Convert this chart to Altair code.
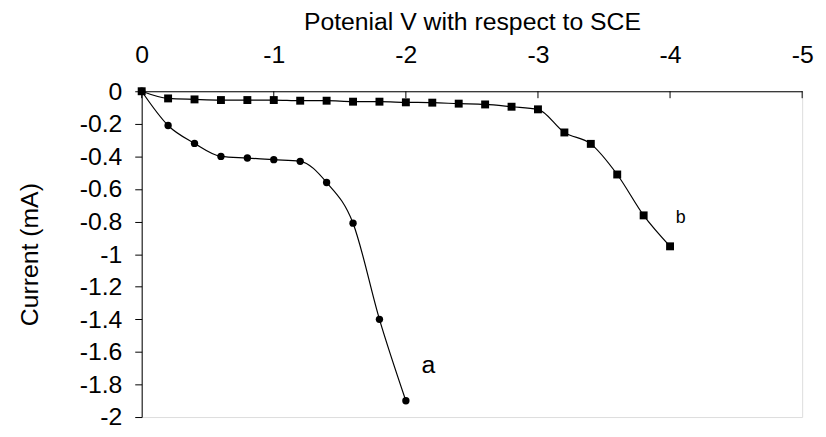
import altair as alt
import pandas as pd

# Data
x_a = [0, -0.2, -0.4, -0.6, -0.8, -1.0, -1.2, -1.4, -1.6, -1.8, -2.0]
y_a = [0, -0.21, -0.32, -0.40, -0.41, -0.42, -0.43, -0.56, -0.81, -1.40, -1.90]

x_b = [0, -0.2, -0.4, -0.6, -0.8, -1.0, -1.2, -1.4, -1.6, -1.8, -2.0,
       -2.2, -2.4, -2.6, -2.8, -3.0, -3.2, -3.4, -3.6, -3.8, -4.0]
y_b = [0, -0.044, -0.05, -0.054, -0.054, -0.054, -0.058, -0.058, -0.064, -0.064, -0.068,
       -0.07, -0.076, -0.081, -0.095, -0.111, -0.253, -0.323, -0.511, -0.762, -0.952]

x_ticks = [0, -1, -2, -3, -4, -5]
y_ticks = [0, -0.2, -0.4, -0.6, -0.8, -1.0, -1.2, -1.4, -1.6, -1.8, -2.0]

label_names = ["a", "b"]
label_x = [-2.17, -4.08]
label_y = [-1.68, -0.78]
label_sizes = [25, 18]

FONT = "Liberation Sans"

df_a = pd.DataFrame({"V": x_a, "I": y_a})
df_b = pd.DataFrame({"V": x_b, "I": y_b})
df_lab = pd.DataFrame({"name": label_names, "V": label_x, "I": label_y, "size": label_sizes})
df_xt = pd.DataFrame({"V": x_ticks})

lab_expr = "datum.value == 0 ? '0' : '-' + format(abs(datum.value), '~g')"

xs = alt.Scale(domain=[0, -5], nice=False, zero=False)
ys = alt.Scale(domain=[-2, 0], nice=False, zero=False)

x_axis = alt.Axis(
    orient="top", values=x_ticks, title="Potenial V with respect to SCE",
    ticks=False, grid=False, domainColor="black", domainWidth=1,
    labelFontSize=25, titleFontSize=25, labelFont=FONT, titleFont=FONT,
    labelColor="black", titleColor="black", titleFontWeight="normal",
    labelPadding=24, titlePadding=8, labelExpr=lab_expr, labelFlush=False,
    labelOverlap=False)
y_axis = alt.Axis(
    values=y_ticks, title="Current (mA)", grid=False,
    domainColor="black", tickColor="black", tickSize=7, tickWidth=1,
    labelFontSize=25, titleFontSize=25, labelFont=FONT, titleFont=FONT,
    labelColor="black", titleColor="black", titleFontWeight="normal",
    labelPadding=13, titlePadding=37, labelExpr=lab_expr, labelFlush=False,
    labelOverlap=False, labelSeparation=0)

x_enc = alt.X("V:Q", scale=xs, axis=x_axis)
y_enc = alt.Y("I:Q", scale=ys, axis=y_axis)

line_a = alt.Chart(df_a).mark_line(color="black", strokeWidth=1.2, interpolate="monotone").encode(x=x_enc, y=y_enc)
pts_a = alt.Chart(df_a).mark_point(shape="circle", filled=True, color="black", size=55, opacity=1).encode(x=x_enc, y=y_enc)
line_b = alt.Chart(df_b).mark_line(color="black", strokeWidth=1.2, interpolate="monotone").encode(x=x_enc, y=y_enc)
pts_b = alt.Chart(df_b).mark_point(shape="square", filled=True, color="black", size=64, opacity=1).encode(x=x_enc, y=y_enc)
labels = alt.Chart(df_lab).mark_text(font=FONT, color="black", align="center", baseline="middle").encode(
    x=x_enc, y=y_enc, text="name:N", size=alt.Size("size:Q", scale=None, legend=None))
xticks = alt.Chart(df_xt).mark_rule(color="black", strokeWidth=1).encode(
    x=x_enc, y=alt.value(0), y2=alt.value(7))

chart = alt.layer(line_a, line_b, pts_a, pts_b, labels, xticks).properties(
    width=667, height=329,
    autosize=alt.AutoSizeParams(type="none"),
    padding={"left": 135, "top": 82, "right": 16, "bottom": 10},
).configure_view(stroke="#808080", strokeWidth=1).configure_axis(
    labelOverlap=False
).configure(background="white")

chart.save("out.html", embed_options={"renderer": "svg", "actions": False})
